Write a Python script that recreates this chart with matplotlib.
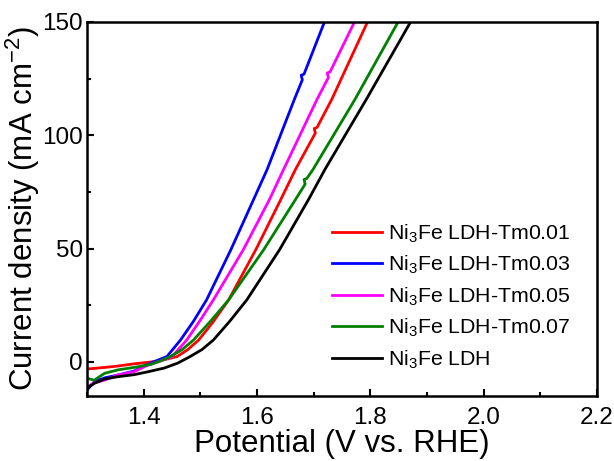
import matplotlib
matplotlib.use("Agg")
import matplotlib.pyplot as plt
from matplotlib.ticker import MultipleLocator

plt.rcParams['font.family'] = ['Liberation Sans', 'DejaVu Sans']
plt.rcParams['mathtext.fontset'] = 'custom'
plt.rcParams['mathtext.rm'] = 'Liberation Sans'
plt.rcParams['mathtext.it'] = 'Liberation Sans'

# LSV curves: potential (V vs. RHE), current density (mA cm-2)
tm001_v = [1.300, 1.331, 1.354, 1.383, 1.413, 1.436, 1.459, 1.478, 1.497, 1.522, 1.550,
           1.598, 1.642, 1.668, 1.703, 1.701, 1.706, 1.732, 1.795]
tm001_i = [-3.1, -2.4, -1.8, -0.8, 0.0, 1.0, 2.4, 5.5, 9.7, 17.5, 27.4,
           49.6, 71.7, 85.0, 101.0, 103.0, 103.5, 115.9, 150.0]

tm003_v = [1.300, 1.313, 1.331, 1.354, 1.383, 1.406, 1.420, 1.441, 1.465, 1.488, 1.511,
           1.554, 1.594, 1.618, 1.666, 1.680, 1.678, 1.683, 1.719]
tm003_i = [-12.4, -8.7, -7.0, -5.8, -4.0, -1.2, 0.3, 2.4, 9.7, 18.0, 27.4,
           49.6, 71.7, 85.0, 115.9, 124.5, 126.5, 127.0, 150.0]

tm005_v = [1.300, 1.313, 1.331, 1.354, 1.383, 1.406, 1.428, 1.450, 1.476, 1.500, 1.523,
           1.576, 1.622, 1.647, 1.706, 1.726, 1.724, 1.729, 1.772]
tm005_i = [-11.0, -9.2, -8.0, -5.8, -4.3, -1.5, 0.3, 2.4, 9.7, 18.5, 27.4,
           49.6, 71.7, 85.0, 115.9, 125.5, 127.5, 128.0, 150.0]

tm007_v = [1.300, 1.313, 1.331, 1.354, 1.383, 1.413, 1.430, 1.447, 1.468, 1.488, 1.518,
           1.550, 1.612, 1.668, 1.685, 1.683, 1.688, 1.699, 1.773, 1.849]
tm007_i = [-7.2, -8.0, -5.0, -3.5, -2.4, -1.0, 0.5, 2.4, 5.5, 9.7, 18.0,
           27.4, 49.6, 71.7, 78.5, 80.5, 81.0, 85.0, 115.9, 150.0]

ldh_v = [1.300, 1.313, 1.331, 1.354, 1.383, 1.406, 1.436, 1.460, 1.482, 1.503, 1.523,
         1.552, 1.582, 1.640, 1.691, 1.720, 1.793, 1.871]
ldh_i = [-11.6, -9.4, -7.5, -6.5, -5.6, -4.4, -2.7, -0.5, 2.4, 5.5, 9.7,
         18.0, 27.4, 49.6, 71.7, 85.0, 115.9, 150.0]

labels = ['Ni$_3$Fe LDH-Tm0.01', 'Ni$_3$Fe LDH-Tm0.03', 'Ni$_3$Fe LDH-Tm0.05',
          'Ni$_3$Fe LDH-Tm0.07', 'Ni$_3$Fe LDH']
colors = ['#ff0000', '#0000ff', '#ff00ff', '#008000', '#000000']
series = [(tm001_v, tm001_i), (tm003_v, tm003_i), (tm005_v, tm005_i),
          (tm007_v, tm007_i), (ldh_v, ldh_i)]

fig = plt.figure(figsize=(6.14, 4.61), dpi=100)
ax = fig.add_axes([0.1417, 0.141, 0.8306, 0.8113])

for (v, i), lab, c in zip(series, labels, colors):
    ax.plot(v, i, color=c, lw=2.0, label=lab)

ax.set_xlim(1.3, 2.2)
ax.set_ylim(-15, 150)
ax.xaxis.set_minor_locator(MultipleLocator(0.1))
ax.yaxis.set_major_locator(MultipleLocator(50))
ax.yaxis.set_minor_locator(MultipleLocator(25))
ax.set_xticks([1.4, 1.6, 1.8, 2.0, 2.2])
ax.set_xticklabels(['1.4', '1.6', '1.8', '2.0', '2.2'])

for s in ax.spines.values():
    s.set_linewidth(1.8)
ax.tick_params(which='both', direction='in', top=False, right=False, width=1.5)
ax.tick_params(which='major', length=5, labelsize=17.5)
ax.tick_params(axis='x', which='major', pad=8)
ax.tick_params(axis='y', which='major', pad=3)
ax.tick_params(which='minor', length=3)

ax.set_xlabel('Potential (V vs. RHE)', fontsize=22.5, labelpad=0)
ax.set_ylabel('Current density (mA cm$^{-2}$)', fontsize=22.5, labelpad=0)

ax.legend(loc='upper left', bbox_to_anchor=(0.48, 0.464), frameon=False,
          fontsize=15.3, handlelength=2.35, handletextpad=0.3, labelspacing=0.43,
          borderpad=0, borderaxespad=0)

fig.savefig('out.png', dpi=100)
